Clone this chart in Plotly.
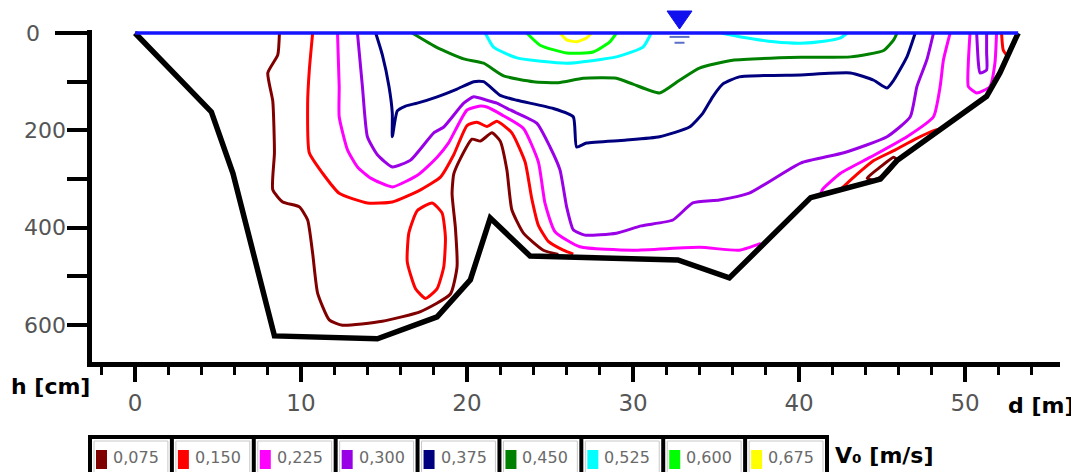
import plotly.graph_objects as go

# ---------------- geometry (window pixels; the page body adds an 8 px margin) ----------------
WIN_W, WIN_H, BODY = 1079, 472, 8
FW, FH = WIN_W - BODY, WIN_H - BODY
PLOT_L, PLOT_R, PLOT_T, PLOT_B = 92, 1060, 30, 362      # plot area in window pixels
X_RANGE = [-2.59, 55.72]          # d [m]
Y_RANGE = [675.6, -6.2]           # h [cm], reversed (depth downwards)

# ---------------- data ----------------
LEVEL_LABELS = ["0,075", "0,150", "0,225", "0,300", "0,375", "0,450", "0,525", "0,600", "0,675"]
LEVEL_COLORS = ["#800000", "#ff0000", "#ff00ff", "#9a00e6", "#00007f",
                "#008000", "#00ffff", "#00ff00", "#ffff00"]

X_TICKS = [0, 10, 20, 30, 40, 50]
Y_TICKS = [0, 200, 400, 600]

WATER_LEVEL = 0
WATER_MARK_D = 32.8

# river bed (d [m], h [cm])
BED = [(0, 0), (4.6, 162), (5.9, 288), (8.4, 622), (14.6, 628), (16.1, 610), (18.2, 583),
       (20.2, 507), (21.4, 380), (23.8, 458), (32.7, 466), (35.8, 503), (40.7, 338),
       (41.7, 329), (44.9, 300), (45.9, 262), (48.5, 200), (51.3, 130), (52.1, 82), (53.2, 0)]

# isotachs (d [m], h [cm])
C075_MAIN = [(8.7, 0), (8.6, 45), (8.0, 82), (8.3, 140), (8.4, 246), (8.3, 322), (8.9, 347),
             (9.9, 357), (10.4, 384), (10.7, 452), (11.0, 534), (11.7, 589), (12.5, 600),
             (14.9, 592), (17.2, 572), (19.0, 536), (19.4, 480), (19.3, 400), (19.1, 330),
             (19.2, 290), (19.6, 258), (20.3, 218), (20.8, 222), (21.5, 205), (22.0, 222),
             (22.4, 281), (22.7, 363), (23.4, 411), (24.6, 446), (25.5, 455)]
C075_BANK = [(44.1, 298), (44.9, 275), (45.7, 255), (45.9, 261), (45.3, 288), (44.5, 302), (44.1, 298)]

C150_MAIN = [(10.7, 0), (10.5, 76), (10.4, 144), (10.5, 246), (11.3, 288), (12.3, 329),
             (14.0, 349), (15.5, 347), (17.2, 322), (18.4, 296), (19.2, 250), (20.0, 190),
             (20.6, 183), (21.2, 192), (21.8, 181), (22.7, 205), (23.5, 265), (23.9, 340),
             (24.3, 395), (24.9, 428), (25.8, 446), (26.4, 454)]
C150_OVAL = [(17.9, 349), (18.5, 370), (18.7, 420), (18.6, 480), (18.2, 525), (17.5, 545),
             (16.9, 525), (16.4, 470), (16.5, 410), (17.0, 365), (17.9, 349)]
C150_BANK = [(42.6, 318), (43.5, 290), (44.5, 262), (45.8, 240), (47.0, 218), (48.0, 202), (48.6, 196)]
C150_EDGE = [(52.2, 0), (52.3, 35), (52.6, 50)]

C225_MAIN = [(12.2, 0), (12.3, 110), (12.3, 172), (12.8, 240), (13.4, 275), (14.2, 298),
             (15.5, 316), (17.1, 290), (18.2, 255), (18.9, 225), (20.0, 158), (20.8, 150),
             (21.2, 152), (22.1, 168), (23.4, 196), (24.3, 265), (24.7, 350), (25.3, 408),
             (26.8, 439), (30.0, 446), (34.0, 440), (36.4, 446), (37.7, 432)]
C225_RIGHT = [(41.3, 333), (41.4, 322), (42.5, 288), (44.3, 255), (46.5, 213), (48.1, 172),
              (48.5, 110), (48.7, 55), (49.1, 0)]
C225_U = [(50.3, 0), (50.2, 60), (50.2, 110), (50.7, 123), (51.5, 110), (51.8, 62), (51.9, 0)]

C300_MAIN = [(13.4, 0), (13.7, 110), (14.0, 213), (14.6, 250), (15.5, 275), (16.6, 261),
             (18.0, 205), (18.6, 193), (19.8, 144), (20.4, 131), (21.2, 138), (21.8, 144),
             (22.6, 158), (24.2, 185), (25.0, 234), (25.6, 281), (26.0, 357), (26.4, 404),
             (27.1, 415), (29.0, 411), (30.5, 396), (32.4, 384), (33.6, 349), (35.2, 343),
             (37.0, 329), (40.1, 267), (42.7, 246), (45.3, 213), (46.7, 172), (47.1, 110),
             (47.7, 55), (48.1, 0)]
C300_U = [(50.7, 0), (50.8, 60), (50.9, 82), (51.3, 76), (51.3, 40), (51.3, 0)]

C375 = [(14.5, 0), (14.9, 45), (15.3, 110), (15.5, 165), (15.5, 213), (15.8, 160), (16.3, 150),
        (17.0, 144), (18.2, 131), (19.4, 115), (20.4, 100), (21.0, 100), (22.0, 128),
        (23.0, 138), (25.2, 155), (26.4, 172), (26.6, 234), (27.2, 226), (29.5, 220),
        (31.6, 213), (33.4, 193), (34.2, 165), (34.8, 131), (35.4, 105), (36.4, 90),
        (40.1, 86), (43.1, 82), (44.5, 97), (45.3, 113), (45.7, 97), (46.5, 49), (47.0, 0)]

C450 = [(16.7, 0), (18.2, 30), (19.8, 53), (21.0, 62), (22.2, 88), (24.0, 100), (25.5, 102),
        (27.0, 93), (29.0, 93), (30.0, 105), (31.6, 123), (32.8, 97), (34.0, 72), (36.0, 56),
        (40.1, 50), (43.1, 49), (45.1, 36), (45.7, 14), (45.9, 0)]

C525_A = [(21.1, 0), (21.6, 29), (23.0, 51), (26.0, 62), (29.0, 49), (30.6, 29), (31.1, 0)]
C525_B = [(35.3, 0), (36.5, 8), (38.5, 18), (40.1, 21), (41.5, 17), (42.5, 10), (42.9, 0)]

C600 = [(23.6, 0), (24.4, 25), (26.0, 41), (27.6, 39), (28.6, 18), (29.0, 0)]
C675 = [(25.6, 0), (26.0, 14), (26.6, 18), (27.2, 10), (27.5, 0)]

SEGMENTS = [(0, C075_MAIN), (0, C075_BANK),
            (1, C150_MAIN), (1, C150_OVAL), (1, C150_BANK), (1, C150_EDGE),
            (2, C225_MAIN), (2, C225_RIGHT), (2, C225_U),
            (3, C300_MAIN), (3, C300_U),
            (4, C375), (5, C450), (6, C525_A), (6, C525_B), (7, C600), (8, C675)]

# ---------------- helpers: window pixel -> paper ----------------
PW, PH = PLOT_R - PLOT_L, PLOT_B - PLOT_T


def xp(px):
    return (px - PLOT_L) / PW


def yp(py):
    return (PLOT_B - py) / PH


def xd(d):
    """data x -> paper x (for the decorative water-level symbol above the plot area)"""
    return (d - X_RANGE[0]) / (X_RANGE[1] - X_RANGE[0])


FONT = "DejaVu Sans"
fig = go.Figure()

for lvl, seg in SEGMENTS:
    fig.add_trace(go.Scatter(
        x=[p[0] for p in seg], y=[p[1] for p in seg], mode="lines",
        line=dict(color=LEVEL_COLORS[lvl], width=3, shape="spline", smoothing=0.5),
        hoverinfo="skip", showlegend=False))

# river bed
fig.add_trace(go.Scatter(x=[p[0] for p in BED], y=[p[1] for p in BED], mode="lines",
                         line=dict(color="black", width=5.5), hoverinfo="skip", showlegend=False))
# water surface
fig.add_trace(go.Scatter(x=[BED[0][0], BED[-1][0]], y=[WATER_LEVEL, WATER_LEVEL], mode="lines",
                         line=dict(color="#1414ff", width=3.5), hoverinfo="skip", showlegend=False))

# water level symbol (inverted triangle above the surface + two short dashes below)
cx = xd(WATER_MARK_D)
hw = 12.5 / PW
fig.add_shape(type="path", xref="paper", yref="paper",
              path=f"M {cx - hw} {yp(11)} L {cx + hw} {yp(11)} L {cx} {yp(29)} Z",
              fillcolor="#1010ee", line=dict(color="#1010ee", width=1))
for dh, half in [(8, 0.6), (20, 0.3)]:
    fig.add_shape(type="line", xref="x", yref="y", x0=WATER_MARK_D - half, x1=WATER_MARK_D + half,
                  y0=WATER_LEVEL + dh, y1=WATER_LEVEL + dh, line=dict(color="#5a6fc8", width=2))

# longer tick at 0
fig.add_shape(type="line", xref="paper", yref="y", x0=xp(55), x1=0, y0=Y_TICKS[0], y1=Y_TICKS[0],
              line=dict(color="black", width=4))
# y tick labels (the 0 label sits left of the longer tick)
for v in Y_TICKS:
    if v == 0:
        fig.add_annotation(xref="paper", yref="y", x=xp(33), y=v, text=str(v), showarrow=False,
                           xanchor="center", yanchor="middle",
                           font=dict(family=FONT, size=22, color="#555555"))
    else:
        fig.add_annotation(xref="paper", yref="y", x=xp(68), y=v, text=str(v), showarrow=False,
                           xanchor="right", yanchor="middle",
                           font=dict(family=FONT, size=22, color="#555555"))

# ---------------- legend bar ----------------
LEG_L, LEG_R, LEG_T, LEG_B = 90, 827, 437, 480
cw = (LEG_R - LEG_L) / len(LEVEL_LABELS)
for i, (lab, col) in enumerate(zip(LEVEL_LABELS, LEVEL_COLORS)):
    cl = LEG_L + i * cw
    fig.add_shape(type="rect", xref="paper", yref="paper", x0=xp(cl + 4), x1=xp(cl + cw - 4),
                  y0=yp(LEG_T + 4), y1=yp(LEG_B - 4), line=dict(color="#c8c8c8", width=1))
    fig.add_shape(type="rect", xref="paper", yref="paper", x0=xp(cl + 6), x1=xp(cl + 17),
                  y0=yp(450), y1=yp(469), line=dict(width=0), fillcolor=col)
    fig.add_annotation(xref="paper", yref="paper", x=xp(cl + 21), y=yp(457), text=lab,
                       showarrow=False, xanchor="left", yanchor="middle",
                       font=dict(family=FONT, size=16, color="#6a6a6a"))
    if i > 0:
        fig.add_shape(type="line", xref="paper", yref="paper", x0=xp(cl), x1=xp(cl),
                      y0=yp(LEG_T), y1=yp(LEG_B), line=dict(color="black", width=4))
fig.add_shape(type="rect", xref="paper", yref="paper", x0=xp(LEG_L), x1=xp(LEG_R),
              y0=yp(LEG_T), y1=yp(LEG_B), line=dict(color="black", width=4))

fig.add_annotation(xref="paper", yref="paper", x=xp(833), y=yp(455), text="V₀ [m/s]",
                   showarrow=False, xanchor="left", yanchor="middle",
                   font=dict(family=FONT, size=22, color="black", weight="bold"))
fig.add_annotation(xref="paper", yref="paper", x=xp(50), y=yp(386), text="h [cm]",
                   showarrow=False, xanchor="center", yanchor="middle",
                   font=dict(family=FONT, size=22, color="black", weight="bold"))
fig.add_annotation(xref="paper", yref="paper", x=xp(1041), y=yp(405), text="d [m]",
                   showarrow=False, xanchor="center", yanchor="middle",
                   font=dict(family=FONT, size=22, color="black", weight="bold"))

fig.update_layout(
    width=FW, height=FH,
    margin=dict(l=PLOT_L - BODY, r=FW - (PLOT_R - BODY), t=PLOT_T - BODY,
                b=FH - (PLOT_B - BODY), pad=0),
    paper_bgcolor="white", plot_bgcolor="white", showlegend=False,
    xaxis=dict(range=X_RANGE, tickvals=X_TICKS, ticktext=[str(v) for v in X_TICKS],
               showgrid=False, zeroline=False, showline=True, linecolor="black", linewidth=5,
               ticks="outside", ticklen=15, tickwidth=4, tickcolor="black",
               minor=dict(dtick=2, tick0=0, ticks="outside", ticklen=8, tickwidth=3,
                          tickcolor="black", showgrid=False),
               tickfont=dict(family=FONT, size=23, color="#555555"), ticklabelstandoff=1),
    yaxis=dict(range=Y_RANGE, tickvals=Y_TICKS, showticklabels=False,
               showgrid=False, zeroline=False, showline=True, linecolor="black", linewidth=5,
               ticks="outside", ticklen=20, tickwidth=4, tickcolor="black",
               minor=dict(dtick=100, tick0=0, ticks="outside", ticklen=20, tickwidth=4,
                          tickcolor="black", showgrid=False)),
)

fig.write_html("out.html")
